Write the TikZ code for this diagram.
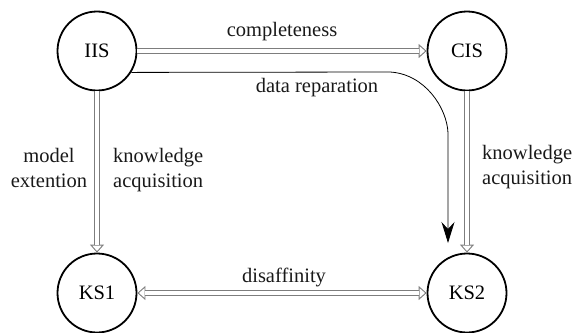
\documentclass[tikz,border=0pt]{standalone}
\usepackage{fontspec}
\setmainfont{Liberation Serif}
\usetikzlibrary{arrows.meta}
\definecolor{linkgray}{RGB}{125,125,125}
\begin{document}
\begin{tikzpicture}[x=1pt,y=-1pt,
  state/.style={circle, draw=black, line width=1.8pt, minimum size=79pt, inner sep=0pt,
    font=\fontsize{20.5}{25}\selectfont},
  lbl/.style={inner sep=0pt, font=\fontsize{20.5}{25}\selectfont, text=black!90},
  hollowtip/.style={draw=linkgray, line width=0.9pt,
    -{Triangle[open, length=8pt, width=14pt, fill=white]}},
  hollowtips/.style={draw=linkgray, line width=0.9pt,
    {Triangle[open, length=8pt, width=14pt, fill=white]}-{Triangle[open, length=8pt, width=14pt, fill=white]}},
  dblline/.style={draw=linkgray, line width=0.9pt, double=white, double distance=3.6pt},
  flow/.style={draw=black, line width=0.8pt, -{Stealth[length=21pt, width=13pt, inset=7pt]}}
]
\useasboundingbox (0,0) rectangle (577,332);

% the four states
\node[state] (IIS) at (97,51)  {IIS};
\node[state] (CIS) at (467,51) {CIS};
\node[state] (KS1) at (97,293) {KS1};
\node[state] (KS2) at (467,293) {KS2};

% double-line transitions: hollow head first, then the double shaft over it
\draw[hollowtip] (IIS) -- (CIS);
\draw[dblline, shorten >=7.5pt] (IIS) -- (CIS);

\draw[hollowtip] (IIS) -- (KS1);
\draw[dblline, shorten >=7.5pt] (IIS) -- (KS1);

\draw[hollowtip] (CIS) -- (KS2);
\draw[dblline, shorten >=7.5pt] (CIS) -- (KS2);

\draw[hollowtips] (KS1) -- (KS2);
\draw[dblline, shorten <=7.5pt, shorten >=7.5pt] (KS1) -- (KS2);

% data reparation: single line bending down towards KS2
\coordinate (bendA) at (390,72);
\coordinate (bendB) at (448,133);
\coordinate (drEnd) at (448,243);
\draw[flow] (IIS.-32) -- (bendA)
  .. controls (425,74) and (447,108) .. (bendB) -- (drEnd);

% labels
\node[lbl, anchor=base] (lComp) at (282,36) {completeness};
\node[lbl, anchor=base] (lRep) at (317,92) {data reparation};
\node[lbl, anchor=base] (lDis) at (284,282) {disaffinity};
\node[lbl, align=center, anchor=north] (lModel) at (49,148) {model\\extention};
\node[lbl, align=left, anchor=north west] (lKA1) at (113,148) {knowledge\\acquisition};
\node[lbl, align=left, anchor=north west] (lKA2) at (482,145) {knowledge\\acquisition};
\end{tikzpicture}
\end{document}
